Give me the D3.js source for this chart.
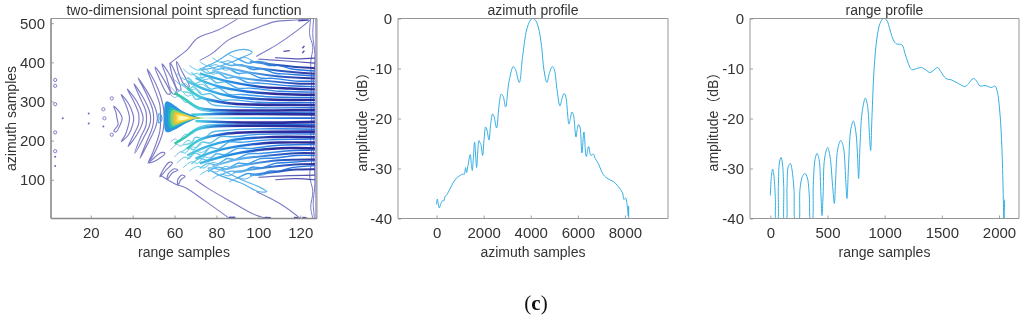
<!DOCTYPE html>
<html><head><meta charset="utf-8">
<script src="https://cdn.jsdelivr.net/npm/d3@7"></script>
<style>
html,body{margin:0;padding:0;background:#fff;overflow:hidden}
svg{display:block;filter:blur(.35px)}
text{font-family:"Liberation Sans",Arial,sans-serif;fill:#333}
</style></head><body><svg id="c" width="1024" height="320"></svg>
<script>
const azimuthProfile=[[0,-37.2],[28,-36.1],[70,-37],[113,-37.9],[184,-37],[255,-36.4],[297,-36.5],[368,-35.5],[425,-35.3],[566,-34.1],[708,-32.8],[850,-31.9],[991,-31.4],[1133,-31.1],[1175,-31.2],[1232,-29.8],[1274,-30.8],[1330,-29.5],[1430,-27.2],[1475,-29],[1515,-30.4],[1560,-28],[1614,-24.7],[1660,-27.5],[1700,-29.8],[1750,-26.5],[1798,-24.4],[1840,-24.8],[1883,-25.2],[1954,-27.4],[2020,-24],[2082,-21.7],[2140,-22.3],[2223,-24.3],[2300,-21],[2379,-19.1],[2440,-19.6],[2549,-21.9],[2650,-17.5],[2747,-15.1],[2830,-15.6],[2931,-17.7],[3080,-12.5],[3257,-9.6],[3350,-10.2],[3512,-12.8],[3653,-7.6],[3823,-2.3],[3965,-.5],[4064,0],[4177,-.2],[4319,-1.7],[4460,-5.6],[4560,-10.3],[4687,-12.8],[4800,-10.8],[4914,-9.6],[5000,-10.2],[5110,-14],[5239,-17.5],[5330,-16],[5409,-15],[5480,-15.5],[5621,-21.1],[5690,-19.8],[5749,-18.7],[5810,-19.2],[5919,-23.7],[5980,-22],[6032,-21.2],[6090,-21.7],[6174,-26.9],[6259,-22.7],[6358,-27.6],[6457,-25.6],[6556,-27.4],[6655,-27.1],[6740,-28],[6868,-29],[7080,-31.2],[7293,-32.1],[7505,-32.6],[7717,-33.6],[7901,-34.9],[7958,-36.2],[8028,-35.9],[8100,-37.5],[8142,-39.5],[8156,-37.5],[8160,-40.5]];
const rangeProfile=[[0,-35.4],[9,-31.6],[20,-30.1],[32,-31.6],[44,-36.2],[50,-41],[61,-41],[70,-33.6],[79,-28.9],[93,-27.8],[105,-28.9],[117,-33.6],[125,-41],[137,-41],[146,-33.6],[157,-29.6],[175,-29],[189,-30.2],[207,-34.2],[222,-41],[245,-41],[259,-34.2],[280,-31.6],[303,-31],[324,-31.9],[341,-35.5],[353,-41],[364,-41],[376,-32.9],[391,-28.2],[408,-27],[426,-28.2],[443,-35.5],[452,-39.4],[461,-35.5],[475,-27.9],[501,-25.8],[522,-27.6],[545,-33.6],[560,-37],[571,-32.2],[589,-26.2],[615,-24.4],[638,-25.6],[659,-32.2],[670,-36],[685,-28.9],[703,-22.3],[726,-20.5],[749,-22.9],[764,-28.2],[772,-32],[784,-25.6],[802,-18.9],[831,-15.9],[851,-17.6],[866,-22.9],[877,-26.4],[889,-19.6],[907,-10.3],[930,-4.3],[959,-1],[988,0],[1017,-.3],[1047,-2.3],[1076,-4.3],[1105,-5.1],[1149,-5.2],[1178,-7],[1207,-9],[1236,-10.2],[1280,-10],[1323,-9.8],[1361,-10.3],[1396,-10.8],[1431,-10.3],[1463,-9.8],[1490,-10.6],[1536,-12],[1586,-12.3],[1644,-13],[1702,-13.6],[1731,-13.1],[1775,-12],[1804,-12.5],[1834,-13.5],[1877,-13.4],[1936,-13.8],[1965,-13.5],[1985,-14.6],[2008,-18.9],[2026,-26.2],[2038,-36.2],[2043,-41],[2049,-36.2]];

const fringesInner=[
[[68,266],[80,268],[100,268],[127,267]],
[[70,250],[85,247],[105,246],[127,248]],
[[60,322],[64,309],[71,285],[78,279],[100,277],[127,279]],
[[60,192],[64,205],[71,229],[78,236],[100,238],[127,236]],
[[66,335],[72,312],[85,296],[100,292],[127,291]],
[[66,179],[72,202],[85,218],[100,222],[127,223]]];
const fringesMiddle=[
[[66,352],[75,330],[88,312],[105,305],[127,304]],
[[66,162],[75,184],[88,202],[105,209],[127,209]],
[[70,360],[80,340],[95,325],[110,319],[127,317]],
[[70,154],[80,174],[95,189],[110,195],[127,195]],
[[72,372],[85,352],[100,338],[115,333],[127,331]],
[[72,142],[85,162],[100,176],[115,181],[127,180]]];
const fringesOuter=[
[[78,380],[90,362],[105,352],[118,346],[127,345]],
[[78,134],[90,152],[105,162],[118,168],[127,168]],
[[82,390],[95,375],[110,364],[127,359]],
[[82,124],[95,139],[110,150],[127,152]],
[[88,395],[100,385],[115,376],[127,371]],
[[88,119],[100,129],[115,138],[127,140]],
[[96,402],[108,394],[118,388],[127,385]],
[[96,112],[108,120],[118,126],[127,127]]];
const fringesRim=[
[[100,408],[112,404],[127,398]],
[[100,106],[112,110],[127,112]],
[[108,412],[118,409],[127,411]],
[[108,100],[118,103],[127,100]]];
const scallops=[
[[66,300],[72,279],[80,273],[100,272],[127,273]],
[[64,325],[68,320],[70,306],[74,308],[78,292],[84,288],[100,284],[127,285]],
[[63,345],[67,332],[69,338],[73,318],[77,320],[82,304],[88,304],[100,298],[127,297]],
[[66,362],[70,346],[73,352],[77,332],[81,335],[86,318],[92,318],[105,312],[127,310]],
[[68,374],[72,360],[76,364],[80,348],[84,350],[90,334],[96,334],[110,326],[127,324]],
[[72,385],[76,372],[80,376],[85,360],[89,362],[95,348],[101,347],[115,340],[127,338]],
[[76,394],[80,382],[85,386],[90,372],[95,373],[101,360],[107,359],[118,352],[127,352]],
[[82,402],[87,392],[92,394],[97,382],[102,383],[108,372],[114,370],[127,365]],
[[90,410],[95,398],[100,402],[105,392],[110,392],[116,383],[127,378]],
[[66,214],[72,235],[80,241],[100,242],[127,241]],
[[64,189],[68,194],[70,208],[74,206],[78,222],[84,226],[100,230],[127,229]],
[[63,169],[67,182],[69,176],[73,196],[77,194],[82,210],[88,210],[100,216],[127,217]],
[[66,152],[70,168],[73,162],[77,182],[81,179],[86,196],[92,196],[105,202],[127,204]],
[[68,140],[72,154],[76,150],[80,166],[84,164],[90,180],[96,180],[110,188],[127,190]],
[[72,129],[76,142],[80,138],[85,154],[89,152],[95,166],[101,167],[115,174],[127,176]],
[[76,120],[80,132],[85,128],[90,142],[95,141],[101,154],[107,155],[118,162],[127,162]],
[[82,112],[87,122],[92,120],[97,132],[102,131],[108,142],[114,144],[127,149]],
[[90,104],[95,116],[100,112],[105,122],[110,122],[116,131],[127,136]]];
const fans=[
[[58,318],[60,310],[62,314],[65,298],[67,300]],
[[58,338],[61,324],[63,328],[66,314],[68,316]],
[[60,356],[63,342],[65,346],[68,330],[70,332],[73,322]],
[[61,372],[65,356],[67,360],[70,342],[73,344],[76,334]],
[[64,384],[68,368],[71,372],[74,356],[77,358],[80,344]],
[[67,392],[71,380],[74,384],[78,370],[81,372],[85,358]],
[[72,402],[76,390],[80,394],[84,380],[87,382],[91,368]],
[[78,412],[82,400],[86,404],[90,392],[93,392],[98,380]],
[[86,420],[90,410],[94,412],[98,402],[102,402],[108,390]],
[[58,196],[60,204],[62,200],[65,216],[67,214]],
[[58,176],[61,190],[63,186],[66,200],[68,198]],
[[60,158],[63,172],[65,168],[68,184],[70,182],[73,192]],
[[61,142],[65,158],[67,154],[70,172],[73,170],[76,180]],
[[64,130],[68,146],[71,142],[74,158],[77,156],[80,170]],
[[67,122],[71,134],[74,130],[78,144],[81,142],[85,156]],
[[72,112],[76,124],[80,120],[84,134],[87,132],[91,146]],
[[78,102],[82,114],[86,110],[90,122],[93,122],[98,134]],
[[86,94],[90,104],[94,102],[98,112],[102,112],[108,124]]];
const cyanLoops=[
[[72,381],[80,402],[88,428],[95,432],[97,425],[92,412],[88,402],[80,388]],
[[76,130],[80,115],[92,91],[100,70],[104,70],[101,80],[92,100],[82,125]]];
const crescents=[
[[31,288],[34,270],[35,257],[34,240],[32,222],[31,225],[33,240],[32.5,257],[32,272]],
[[34.5,318],[38,295],[40,270],[40.5,257],[40,240],[38,215],[34.5,197],[36.5,215],[38,240],[38.5,257],[38,272],[36.5,295]],
[[37.4,332],[42,300],[44.5,270],[45,257],[44.5,242],[42,215],[37.8,185],[40.5,215],[42.8,242],[43,257],[42.8,270],[40.5,300]],
[[40.6,345],[45,310],[48,275],[48.6,257],[48,238],[45,205],[41,168],[43.5,205],[46.3,238],[46.6,257],[46.3,275],[43.5,310]],
[[42.6,360],[47.5,320],[51,280],[51.8,257],[51,235],[47.5,195],[43.5,155],[46.5,195],[49.5,235],[50,257],[49.5,280],[46.5,320]],
[[46.9,383],[51,345],[54.5,290],[55,257],[54.5,225],[51,175],[47.3,142],[50,175],[53,225],[53.3,257],[53,290],[49.5,345]],
[[50.7,388],[55,355],[58,320],[56.5,320],[53,355]],
[[54,396],[58,365],[61,320],[59,320],[56,365]],
[[57.8,399],[61,365],[63,330],[61.5,330],[59,365]],
[[61,402],[64,372],[67,338],[65.5,338],[62,372]],
[[48,143],[52,152],[55.4,168],[54,170],[50,155]],
[[53,107],[56,125],[59,143],[57.5,145],[54.5,125]],
[[56.4,100],[59,118],[61.6,124],[60,128],[57,115]],
[[61.6,87],[63,100],[65,108],[63.5,112],[61.5,100]]];
const outerContours=[
[[58,398],[62,415],[66,432],[71,462],[81,483],[90,511]],
[[53,112],[60,90],[65,80],[74,48],[86,2]],
[[72,405],[78,423],[86,458],[97,483],[108,504],[118,508],[125,512]],
[[70,100],[76,78],[87,44],[97,14],[104,1]],
[[99,415],[104,430],[110,449],[118,479],[123,500],[125,510]],
[[99,70],[110,40],[118,10],[120,1]]];
const rightEdges=[
[[125,512],[124.5,470],[126,440],[125,400],[125.5,350],[125,300],[125.5,257],[125,200],[125.5,150],[124.5,110],[126,70],[125,30],[126,2]],
[[126.4,512],[126,470],[127,420],[126.4,350],[126.6,257],[126.4,170],[127,90],[126.2,40],[126.8,2]],
[[127.5,512],[127.5,2]]];
const innerArc=[[53,268],[54,257],[53,246],[52.4,246],[52.6,257],[52.4,268]];
const centerRidge=[[68,257],[80,257.5],[100,257.5],[127,257.5]];
const blobBlue=[[56,300],[55,260],[56,222],[60,228],[64,240],[70,255],[72,258],[70,262],[64,275],[60,290]];
const blobTeal=[[58,285],[57,258],[58,232],[62,240],[68,254],[72,258],[68,262],[62,276]];
const blobGreen=[[59,278],[58,258],[59,238],[63,244],[69,255],[74,258],[69,261],[63,272]];
const blobOrange=[[60,272],[59.5,257],[60,243],[64,248],[69,256],[72,258],[69,260],[64,268]];
const blobYellow=[[61,267],[61,258],[61,248],[64,251],[68,256],[70,258],[68,260],[64,265]];
const blobPale=[[62,262],[62,253],[65,254],[67,257.5],[65,261]];
const specks=[[6.6,257],[19,269],[19,244],[26,236],[3,159],[3,135]];
const rings=[[3,355],[3,340],[3,293],[3,221],[3,173],[26,280],[26.5,257],[30,308],[30,215]];
const edgeDashes=[[[86,4],[89,4]],[[103,4],[106,3]],[[117,4],[119,3]],[[121,4],[123,3]],[[119,506],[124,508]],[[112,428],[115,430]],[[121,436],[122,442]],[[121,424],[122,430]]];
const rangeTicks2d=[20,40,60,80,100,120], azTicks2d=[100,200,300,400,500];
const dbTicks=[0,-10,-20,-30,-40], azProfileTicks=[0,2000,4000,6000,8000], rangeProfileTicks=[0,500,1000,1500,2000];

const svg=d3.select('#c'), defs=svg.append('defs');
const plotTop=18.5,plotBottom=218.5;
const gray='#8a8a8a';
function frame(x0,x1,xs,ys,xt,yt,title,xl,yl,ylx,thick){
  const g=svg.append('g');
  const fmt=d=>String(d);
  const ax=g.append('g').attr('transform',`translate(0,${plotBottom})`).call(d3.axisBottom(xs).tickValues(xt).tickFormat(fmt).tickSize(-3).tickPadding(9));
  const ay=g.append('g').attr('transform',`translate(${x0},0)`).call(d3.axisLeft(ys).tickValues(yt).tickFormat(fmt).tickSize(-3).tickPadding(6));
  [ax,ay].forEach(a=>{a.selectAll('.domain').remove();a.selectAll('line').attr('stroke',gray).attr('stroke-width',.8);a.selectAll('text').style('font-size','15px').style('fill','#333');});
  const w=thick?1.6:.9;
  [[x0,plotTop,x1,plotTop,.9],[x1,plotTop,x1,plotBottom,.9],[x0,plotTop,x0,plotBottom,w],[x0,plotBottom,x1,plotBottom,w]].forEach(l=>g.append('line').attr('x1',l[0]).attr('y1',l[1]).attr('x2',l[2]).attr('y2',l[3]).attr('stroke',gray).attr('stroke-width',l[4]));
  const cx=(x0+x1)/2;
  g.append('text').attr('x',cx).attr('y',15).attr('text-anchor','middle').style('font-size','14px').text(title);
  g.append('text').attr('x',cx).attr('y',257).attr('text-anchor','middle').style('font-size','14px').text(xl);
  g.append('text').attr('transform',`translate(${ylx},${(plotTop+plotBottom)/2}) rotate(-90)`).attr('text-anchor','middle').style('font-size','14px').style('font-family','"Liberation Sans","Noto Sans CJK SC",sans-serif').text(yl);
}
// panel 1
const x1=d3.scaleLinear().domain([1,128]).range([51,317]);
const y1=d3.scaleLinear().domain([1,512]).range([plotBottom,plotTop]);
defs.append('clipPath').attr('id','clipA').append('rect').attr('x',51).attr('y',plotTop).attr('width',266).attr('height',200);
defs.append('filter').attr('id','soft').attr('x','-5%').attr('y','-5%').attr('width','110%').attr('height','110%').append('feGaussianBlur').attr('stdDeviation',.55);
const psf=svg.append('g').attr('clip-path','url(#clipA)').append('g').attr('filter','url(#soft)');
function gradient(id,stops){
  const gr=defs.append('linearGradient').attr('id',id).attr('gradientUnits','userSpaceOnUse').attr('x1',x1(1)).attr('x2',x1(128)).attr('y1',0).attr('y2',0);
  stops.forEach(s=>gr.append('stop').attr('offset',(s[0]-1)/127).attr('stop-color',s[1]));
}
gradient('gInner',[[60,'#2fc9a0'],[72,'#45c8e0'],[80,'#2a78d8'],[90,'#2b2f9e'],[127,'#2b2f9e']]);
gradient('gMiddle',[[60,'#60d8d8'],[80,'#35a8e8'],[95,'#1f6fd8'],[106,'#2b2f9e'],[127,'#262a96']]);
gradient('gOuter',[[70,'#8fd0f0'],[95,'#55a8e8'],[110,'#2a60c8'],[127,'#30309a']]);
gradient('gRim',[[90,'#8c8cd0'],[127,'#4848a8']]);
gradient('gLight',[[60,'#7fe0e0'],[90,'#45a8f0'],[110,'#2a80e4'],[127,'#2470dc']]);
gradient('gFan',[[56,'#a0a0dc'],[66,'#5cc8ea'],[90,'#58b0ee'],[118,'#5a90e0']]);
gradient('gRidge',[[66,'#fff3a0'],[75,'#d8f4e0'],[90,'#40c0e8'],[110,'#2080e0'],[127,'#2060d0']]);
const openLine=d3.line().x(d=>x1(d[0])).y(d=>y1(d[1])).curve(d3.curveCatmullRom.alpha(.5));
const closedLine=d3.line().x(d=>x1(d[0])).y(d=>y1(d[1])).curve(d3.curveCatmullRomClosed.alpha(.5));
function draw(list,gen,stroke,w,fill){
  psf.append('g').selectAll('path').data(list).join('path').attr('d',gen).attr('fill',fill||'none').attr('stroke',stroke).attr('stroke-width',w).attr('stroke-linejoin','round');
}
draw(outerContours,openLine,'#7c7cc8',1.1);
draw(rightEdges.slice(0,2),openLine,'#7777c4',1);
draw(rightEdges.slice(2),openLine,'#7070c0',1);
draw(crescents,closedLine,'#7e7cc6',1.15);
draw([innerArc],closedLine,'#35a0e8',1.1);
draw(cyanLoops,closedLine,'#55b0ea',1.2);
draw(fans,openLine,'url(#gFan)',1);
draw(scallops,openLine,'url(#gLight)',1.4);
draw(fringesRim,openLine,'url(#gRim)',1.2);
draw(fringesOuter,openLine,'url(#gOuter)',2);
draw(fringesMiddle,openLine,'url(#gMiddle)',2.4);
draw(fringesInner,openLine,'url(#gInner)',2.6);
draw(edgeDashes,openLine,'#4a4aae',1.4);
draw([centerRidge],openLine,'url(#gRidge)',1.8);
[[blobBlue,'#2a96e0'],[blobTeal,'#25bdb0'],[blobGreen,'#86d070'],[blobOrange,'#f4c035'],[blobYellow,'#fbe050'],[blobPale,'#fff8c0']].forEach(b=>draw([b[0]],closedLine,'none',0,b[1]));
psf.append('g').selectAll('circle.s').data(specks).join('circle').attr('cx',d=>x1(d[0])).attr('cy',d=>y1(d[1])).attr('r',1).attr('fill','#6a68c0');
psf.append('g').selectAll('circle.r').data(rings).join('circle').attr('cx',d=>x1(d[0])).attr('cy',d=>y1(d[1])).attr('r',1.6).attr('fill','none').attr('stroke','#7e7cc6').attr('stroke-width',1);
frame(51,317,x1,y1,rangeTicks2d,azTicks2d,'two-dimensional point spread function','range samples','azimuth samples',16,true);
// profiles
function profile(x0,x1p,domain,data,xt,title,xl,ylx,id){
  const xs=d3.scaleLinear().domain(domain).range([x0,x1p]);
  const ys=d3.scaleLinear().domain([-40,0]).range([plotBottom,plotTop]);
  defs.append('clipPath').attr('id',id).append('rect').attr('x',x0).attr('y',plotTop-1).attr('width',x1p-x0).attr('height',201);
  svg.append('path').attr('clip-path',`url(#${id})`).datum(data).attr('d',d3.line().x(d=>xs(d[0])).y(d=>ys(d[1])).curve(d3.curveCatmullRom.alpha(.5))).attr('fill','none').attr('stroke','#35aee2').attr('stroke-width',1);
  frame(x0,x1p,xs,ys,xt,dbTicks,title,xl,'amplitude（dB）',ylx,false);
}
profile(398,668,[-1640,9830],azimuthProfile,azProfileTicks,'azimuth profile','azimuth samples',367,'clipB');
profile(750,1019,[-178,2175],rangeProfile,rangeProfileTicks,'range profile','range samples',718,'clipC');
// caption
const cap=svg.append('text').attr('x',536).attr('y',310).attr('text-anchor','middle').style('font-family','"Liberation Serif",serif').style('font-size','21px').style('fill','#111');
cap.append('tspan').text('(');cap.append('tspan').attr('font-weight','bold').text('c');cap.append('tspan').text(')');
</script></body></html>
